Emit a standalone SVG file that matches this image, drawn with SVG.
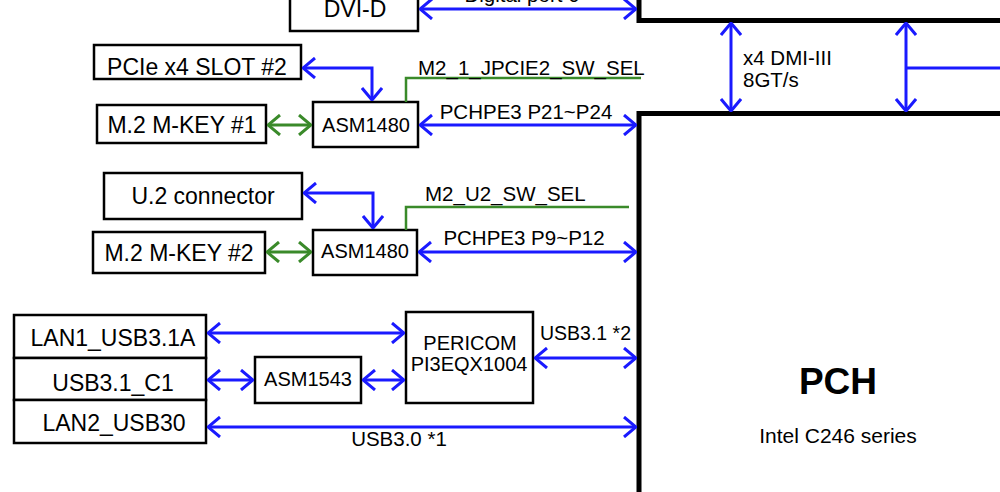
<svg xmlns="http://www.w3.org/2000/svg" width="1000" height="492" viewBox="0 0 1000 492">
<style>
text{font-family:"Liberation Sans",Arial,sans-serif;fill:#000}
.box{fill:#fff;stroke:#000;stroke-width:2.5}
.big{fill:#fff;stroke:#000;stroke-width:5}
.b{stroke:#1a1aff;stroke-width:3;fill:none;marker-start:url(#ab);marker-end:url(#ab)}
.g{stroke:#3a8a2a;stroke-width:3;fill:none;marker-start:url(#ag);marker-end:url(#ag)}
.gl{stroke:#3a8a2a;stroke-width:2.5;fill:none}
.bl{stroke:#1a1aff;stroke-width:3;fill:none}
.t23{font-size:23px;text-anchor:middle}
.t20{font-size:20px;text-anchor:middle}
.lab{font-size:20.5px}
</style>
<defs>
<marker id="ab" markerUnits="userSpaceOnUse" viewBox="0 0 14 22" markerWidth="14" markerHeight="22" refX="13" refY="11" orient="auto-start-reverse">
<path d="M1,1 L13,11 L1,21" fill="none" stroke="#1a1aff" stroke-width="3"/>
</marker>
<marker id="ag" markerUnits="userSpaceOnUse" viewBox="0 0 14 22" markerWidth="14" markerHeight="22" refX="13" refY="11" orient="auto-start-reverse">
<path d="M1,1 L13,11 L1,21" fill="none" stroke="#3a8a2a" stroke-width="3"/>
</marker>
</defs>
<rect width="1000" height="492" fill="#fff"/>

<g id="cpu"><rect class="big" x="639" y="-30" width="400" height="50.5"/></g>
<g id="pch"><rect class="big" x="639" y="113.5" width="400" height="420"/>
<text x="838" y="394" style="font-size:37px;font-weight:bold;text-anchor:middle">PCH</text>
<text x="838" y="443" style="font-size:21px;text-anchor:middle">Intel C246 series</text></g>

<g id="dvi"><rect class="box" x="290" y="-10" width="128" height="41"/><text class="t23" x="355" y="17">DVI-D</text></g>
<g id="pcie2"><rect class="box" x="94" y="45" width="207" height="34"/><text class="t23" x="197" y="75">PCIe x4 SLOT #2</text></g>
<g id="m2k1"><rect class="box" x="97" y="105" width="169" height="38"/><text class="t23" x="182" y="133">M.2 M-KEY #1</text></g>
<g id="asm1"><rect class="box" x="313" y="102" width="105" height="45"/><text class="t20" x="366" y="132">ASM1480</text></g>
<g id="u2"><rect class="box" x="104" y="173" width="198" height="46"/><text class="t23" x="203" y="204">U.2 connector</text></g>
<g id="m2k2"><rect class="box" x="93" y="232" width="172" height="41"/><text class="t23" x="179" y="261">M.2 M-KEY #2</text></g>
<g id="asm2"><rect class="box" x="313" y="230" width="104" height="45"/><text class="t20" x="365" y="258">ASM1480</text></g>
<g id="lan1"><rect class="box" x="14" y="315" width="192" height="43"/><text class="t23" x="113" y="346">LAN1_USB3.1A</text></g>
<g id="usbc1"><rect class="box" x="14" y="358" width="192" height="42"/><text class="t23" x="113" y="391">USB3.1_C1</text></g>
<g id="lan2"><rect class="box" x="14" y="400" width="192" height="43"/><text class="t23" x="114" y="431">LAN2_USB30</text></g>
<g id="asm1543"><rect class="box" x="255" y="357" width="106" height="46"/><text class="t20" x="308" y="386">ASM1543</text></g>
<g id="pericom"><rect class="box" x="406" y="312" width="127" height="91"/><text class="t20" x="470" y="350">PERICOM</text><text class="t20" x="469" y="371">PI3EQX1004</text></g>

<g id="connectors">
<line class="b" x1="420" y1="9" x2="636" y2="9"/>
<text class="lab" x="522" y="2" text-anchor="middle">Digital port 0</text>
<line class="b" x1="731" y1="23" x2="731" y2="111"/>
<text class="lab" x="743" y="65">x4 DMI-III</text>
<text class="lab" x="743" y="87">8GT/s</text>
<line class="b" x1="906" y1="23" x2="906" y2="111"/>
<line class="bl" x1="906" y1="68" x2="1000" y2="68"/>

<polyline class="b" points="303,68 372,68 372,100"/>
<line class="g" x1="268" y1="125" x2="311" y2="125"/>
<polyline class="gl" points="406,102 406,78 641,78"/>
<text class="lab" x="418" y="75">M2_1_JPCIE2_SW_SEL</text>
<line class="b" x1="420" y1="125" x2="636" y2="125"/>
<text class="lab" x="526" y="119" text-anchor="middle">PCHPE3 P21~P24</text>

<polyline class="b" points="304,193 373,193 373,228"/>
<line class="g" x1="267" y1="252" x2="311" y2="252"/>
<polyline class="gl" points="406,230 406,207 629,207"/>
<text class="lab" x="425" y="201">M2_U2_SW_SEL</text>
<line class="b" x1="419" y1="252" x2="636" y2="252"/>
<text class="lab" x="524" y="245" text-anchor="middle">PCHPE3 P9~P12</text>

<line class="b" x1="208" y1="333" x2="404" y2="333"/>
<line class="b" x1="208" y1="380" x2="253" y2="380"/>
<line class="b" x1="363" y1="380" x2="404" y2="380"/>
<line class="b" x1="535" y1="358" x2="636" y2="358"/>
<text class="lab" x="540" y="340" style="font-size:19.5px">USB3.1 *2</text>
<line class="b" x1="208" y1="427" x2="636" y2="427"/>
<text class="lab" x="399" y="446" text-anchor="middle">USB3.0 *1</text>
</g>
</svg>
